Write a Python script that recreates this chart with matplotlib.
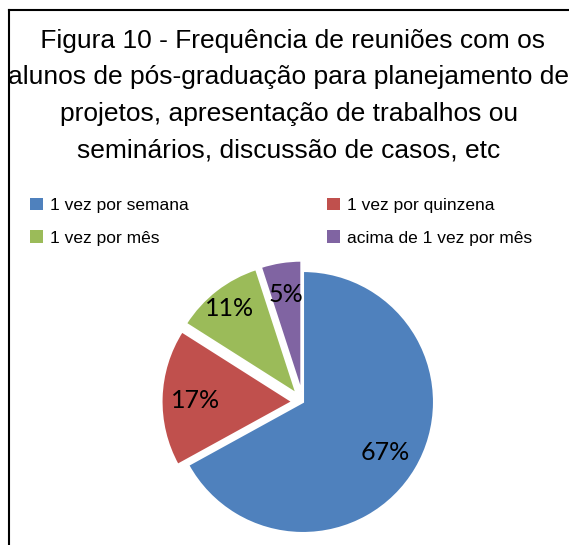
import numpy as np
import matplotlib.pyplot as plt
from matplotlib.patches import Patch

categorias = ['1 vez por semana', '1 vez por quinzena', '1 vez por mês', 'acima de 1 vez por mês']
valores = [67, 17, 11, 5]
cores = ['#4F81BD', '#C0504D', '#9BBB59', '#8064A2']
explode = [0, 0.08, 0.08, 0.08]
dist_rotulo = [0.73, 0.74, 0.84, 0.77]

titulo = (' Figura 10 - Frequência de reuniões com os\n'
          'alunos de pós-graduação para planejamento de\n'
          'projetos, apresentação de trabalhos ou\n'
          'seminários, discussão de casos, etc')

plt.rcParams['font.family'] = ['Liberation Sans', 'DejaVu Sans']

W, H = 569, 545
fig = plt.figure(figsize=(W / 100, H / 100), dpi=100)

# moldura (cortada à direita e embaixo)
fig.add_artist(plt.Line2D([9 / W, 9 / W], [0, 1 - 10 / H], color='black', lw=1.5))
fig.add_artist(plt.Line2D([9 / W, 1], [1 - 10 / H, 1 - 10 / H], color='black', lw=1.5))

fig.text(289 / W, 1 - 29 / H, titulo, ha='center', va='top', fontsize=19, linespacing=1.65)

# pizza
r_px = 131
lim = 1.2
ax = fig.add_axes([(303 - lim * r_px) / W, (H - 402 - lim * r_px) / H,
                   2 * lim * r_px / W, 2 * lim * r_px / H])
wedges, _ = ax.pie(valores, colors=cores, explode=explode, startangle=90,
                   counterclock=False, radius=1,
                   wedgeprops=dict(edgecolor='white', linewidth=1.5))
ax.set_xlim(-lim, lim)
ax.set_ylim(-lim, lim)
ax.set_aspect('equal')
ax.axis('off')

for w, v, d, e in zip(wedges, valores, dist_rotulo, explode):
    ang = np.deg2rad((w.theta1 + w.theta2) / 2)
    ax.text((d + e) * np.cos(ang), (d + e) * np.sin(ang), f'{v}%',
            ha='center', va='center_baseline', fontsize=18, family=['Lato', 'DejaVu Sans'])

# legenda em linhas: semana, quinzena / mês, acima
ordem = [0, 2, 1, 3]
handles = [Patch(facecolor=cores[i]) for i in ordem]
rotulos = [categorias[i] for i in ordem]
fig.legend(handles, rotulos, ncol=2, loc='upper left',
           bbox_to_anchor=(14 / W, 1 - 182 / H), frameon=False, fontsize=12.5,
           handlelength=0.75, handleheight=0.75, handletextpad=0.4,
           columnspacing=8.0, labelspacing=1.0)

fig.savefig('out.png', dpi=100)
